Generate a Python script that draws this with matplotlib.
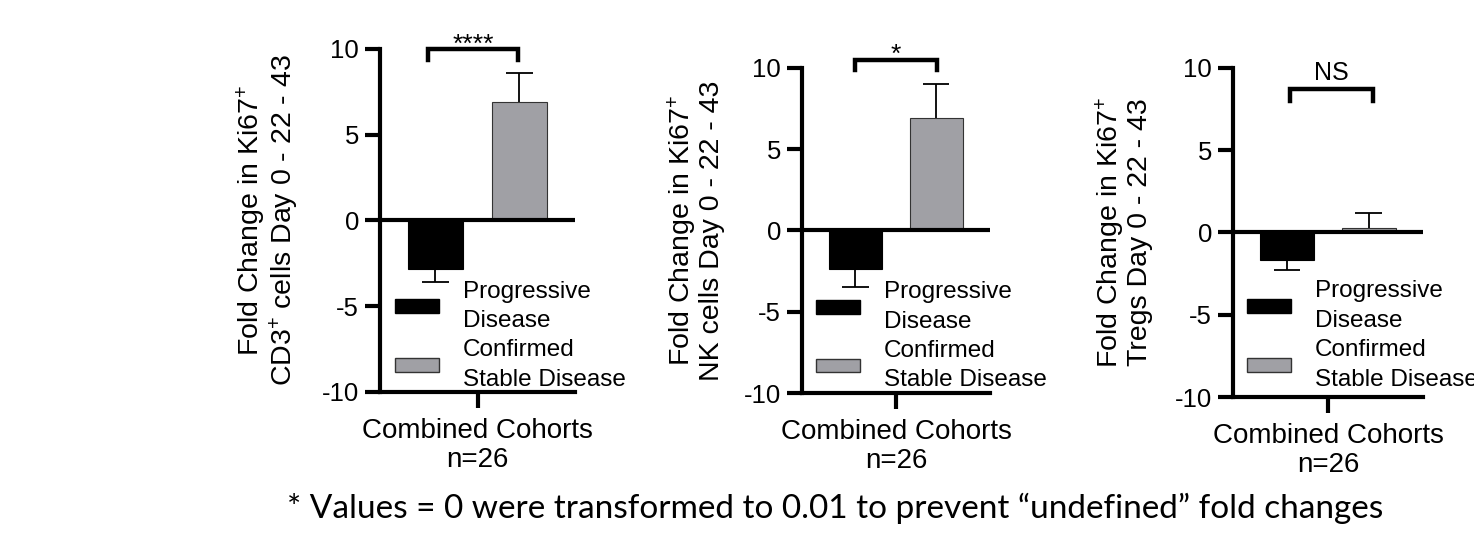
import numpy as np
import matplotlib
matplotlib.use("Agg")
import matplotlib.pyplot as plt
from matplotlib.patches import Patch

plt.rcParams['font.family'] = ['Liberation Sans', 'DejaVu Sans']
plt.rcParams['mathtext.fontset'] = 'custom'
plt.rcParams['mathtext.rm'] = 'Liberation Sans'
plt.rcParams['mathtext.it'] = 'Liberation Sans:italic'
plt.rcParams['mathtext.bf'] = 'Liberation Sans:bold'
plt.rcParams['axes.unicode_minus'] = False

# data
groups = ["Progressive\nDisease", "Confirmed\nStable Disease"]
cohort_label = "Combined Cohorts\nn=26"
ylabels = ["Fold Change in Ki67$^{+}$\nCD3$^{+}$ cells Day 0 - 22 - 43",
           "Fold Change in Ki67$^{+}$\nNK cells Day 0 - 22 - 43",
           "Fold Change in Ki67$^{+}$\nTregs Day 0 - 22 - 43"]
means_cd3 = [-2.8, 6.9]
err_cd3 = [0.8, 1.7]
means_nk = [-2.35, 6.95]
err_nk = [1.15, 2.05]
means_treg = [-1.65, 0.25]
err_treg = [0.65, 0.95]
signif = ["****", "*", "NS"]
yticks = [-10, -5, 0, 5, 10]
footnote = "* Values = 0 were transformed to 0.01 to prevent \u201cundefined\u201d fold changes"

means = [means_cd3, means_nk, means_treg]
errs = [err_cd3, err_nk, err_treg]

grey = "#a0a0a5"
colors = ["black", grey]
edges = ["black", "#333333"]

fig = plt.figure(figsize=(14.74, 5.4), dpi=100)
rects = [[0.2578, 0.2741, 0.1323, 0.6352],
         [0.5441, 0.2722, 0.1275, 0.6019],
         [0.8365, 0.2648, 0.1289, 0.6093]]
# bracket: (top, leg bottom, x0, x1), text offset (pt), font size
brackets = [(10.0, 9.36, 0.246, 0.708), (10.49, 9.88, 0.282, 0.718), (8.75, 8.02, 0.30, 0.737)]
sig_off = [-1.8, -1.2, 6.5]
sig_size = [19, 19, 18]
leg_anchor = [(0.077, 0.325), (0.074, 0.345), (0.074, 0.355)]
ylab_x = [-0.405, -0.41, -0.42]

xpos = [0.284, 0.714]
for i in range(3):
    ax = fig.add_axes(rects[i])
    m = means[i]
    e = errs[i]
    ax.bar(xpos, m, width=0.283, color=colors, edgecolor=edges, linewidth=0.8, zorder=2)
    for x, mv, ev in zip(xpos, m, e):
        end = mv + np.sign(mv) * ev
        ax.vlines(x, mv, end, color="black", lw=1.3, zorder=1)
        ax.hlines(end, x - 0.07, x + 0.07, color="black", lw=1.3, zorder=1)
    ax.axhline(0, color="black", lw=3, zorder=3)

    ax.set_xlim(0, 1)
    ax.set_ylim(-10, 10)
    ax.set_yticks(yticks)
    ax.set_xticks([0.5])
    ax.set_xticklabels([cohort_label], fontsize=20, linespacing=1.15)
    ax.tick_params(axis="y", length=11, width=3, labelsize=18.5, pad=4)
    ax.tick_params(axis="x", length=11.5, width=3, pad=7)
    for s in ["top", "right"]:
        ax.spines[s].set_visible(False)
    for s in ["left", "bottom"]:
        ax.spines[s].set_linewidth(3)

    ax.set_ylabel(ylabels[i], fontsize=20.5, linespacing=1.0)
    ax.yaxis.set_label_coords(ylab_x[i], 0.5)

    top, leg, x0, x1 = brackets[i]
    ax.plot([x0, x0, x1, x1], [leg, top, top, leg], color="black", lw=3.2,
            solid_joinstyle="miter", clip_on=False)
    ax.annotate(signif[i], ((x0 + x1) / 2, top), xytext=(0, sig_off[i]),
                textcoords="offset points", ha="center", va="baseline",
                fontsize=sig_size[i], annotation_clip=False)

    handles = [Patch(facecolor=colors[0], edgecolor=edges[0]),
               Patch(facecolor=colors[1], edgecolor=edges[1])]
    lg = ax.legend(handles, groups, loc="upper left", bbox_to_anchor=leg_anchor[i],
                   frameon=False, fontsize=17.5, handlelength=1.8, handleheight=0.5,
                   handletextpad=1.0, labelspacing=0.3, borderpad=0, borderaxespad=0)
    for t in lg.get_texts():
        t.set_linespacing(1.45)

fig.text(0.5665, 0.059, footnote, family=["Lato", "DejaVu Sans"], fontsize=24,
         ha="center", va="center")

fig.savefig("out.png", dpi=100)
